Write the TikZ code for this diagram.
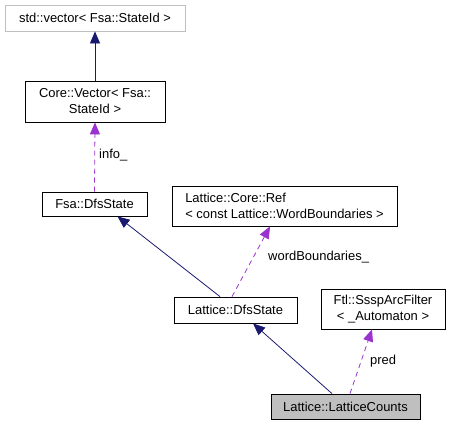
\documentclass[tikz,border=0pt]{standalone}
\usepackage{fontspec}
\setmainfont{Liberation Sans}
\usetikzlibrary{arrows.meta}
\definecolor{navy}{HTML}{191970}
\definecolor{orchid}{HTML}{9A32CD}
\definecolor{boxgray}{HTML}{BFBFBF}
\begin{document}
\begin{tikzpicture}[x=1bp,y=-1bp,
  every node/.style={font=\fontsize{13}{16}\selectfont, inner sep=0pt},
  cls/.style={draw=black, line width=0.8bp, rectangle, align=center},
  inh/.style={draw=navy, line width=0.8bp, -{Triangle[length=12bp,width=10bp]}},
  use/.style={draw=orchid, line width=0.8bp, dash pattern=on 5bp off 4bp, -{Triangle[length=12bp,width=10bp]}},
  lbl/.style={anchor=west}]
\useasboundingbox (0,0) rectangle (451,425);
\node[cls, draw=boxgray, minimum width=180bp, minimum height=26bp] (vec) at (95,18) {std::vector< Fsa::StateId >};
\node[cls, minimum width=140bp, minimum height=41bp] (corevec) at (95,101.5) {Core::Vector< Fsa::\\StateId >};
\node[cls, minimum width=105bp, minimum height=24bp] (fsadfs) at (94.5,204) {Fsa::DfsState};
\node[cls, align=left, minimum width=225bp, minimum height=40bp] (ref) at (284.5,206) {Lattice::Core::Ref\\< const Lattice::WordBoundaries >};
\node[cls, minimum width=123bp, minimum height=26bp] (latdfs) at (235.5,310) {Lattice::DfsState};
\node[cls, minimum width=124bp, minimum height=40bp] (sssp) at (383,309) {Ftl::SsspArcFilter\\< \_Automaton >};
\node[cls, fill=boxgray, minimum width=149bp, minimum height=25bp] (counts) at (345.5,406.5) {Lattice::LatticeCounts};

\draw[inh] (corevec.north) -- (vec.south);
\draw[use] (fsadfs.north) -- (corevec.south);
\node[lbl] (l1) at (99,155) {info\_};
\draw[inh] ([xshift=-15.5bp]latdfs.north) -- ([xshift=23bp]fsadfs.south);
\draw[use] ([xshift=-3.5bp]latdfs.north) -- ([xshift=-14.5bp]ref.south);
\node[lbl] (l2) at (268,257) {wordBoundaries\_};
\draw[inh] ([xshift=-13.5bp]counts.north) -- ([xshift=17.5bp]latdfs.south);
\draw[use] ([xshift=4.5bp]counts.north) -- ([xshift=-11bp]sssp.south);
\node[lbl] (l3) at (370,361) {pred};
\end{tikzpicture}
\end{document}
